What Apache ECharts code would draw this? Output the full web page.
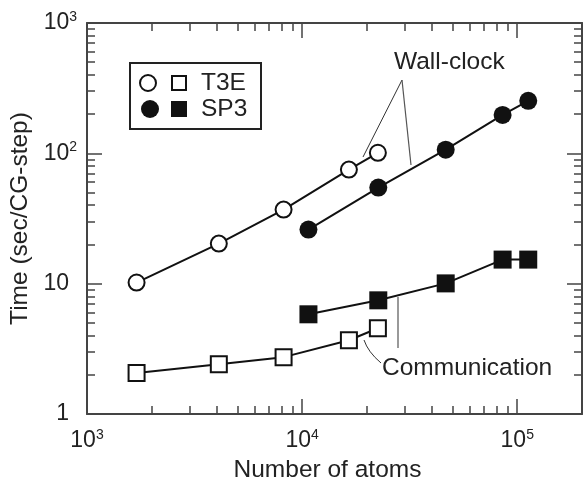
<!DOCTYPE html>
<html>
<head>
<meta charset="utf-8">
<script src="https://cdn.jsdelivr.net/npm/echarts@6/dist/echarts.min.js"></script>
<style>
  html, body { margin: 0; padding: 0; background: #fff; }
  #main { width: 586px; height: 477px; }
</style>
</head>
<body>
<div id="main"></div>
<script>
// data
var atomsT3E = [1700, 4100, 8200, 16500, 22500];
var wallT3E  = [10.2, 20.3, 37, 75, 101];
var commT3E  = [2.06, 2.41, 2.73, 3.68, 4.55];

var atomsSP3 = [10700, 22600, 46500, 85500, 112500];
var wallSP3  = [26, 54.6, 106.6, 197, 253];
var commSP3  = [5.82, 7.45, 10.05, 15.3, 15.3];

// axis ticks
var xMajor = [1e3, 1e4, 1e5];
var yMajor = [1, 10, 100, 1000];
var xMinor = [2e3, 3e3, 4e3, 5e3, 6e3, 7e3, 8e3, 9e3,
              2e4, 3e4, 4e4, 5e4, 6e4, 7e4, 8e4, 9e4];
var yMinor = [2, 3, 4, 5, 6, 7, 8, 9,
              20, 30, 40, 50, 60, 70, 80, 90,
              200, 300, 400, 500, 600, 700, 800, 900];

var FONT = '"Liberation Sans", Arial, Helvetica, sans-serif';
var ink = '#222';
var frame = '#444';
var bigFont = 24.5;

function pairs(xs, ys) {
    var out = [];
    for (let i = 0; i < xs.length; i++) {
        out.push([xs[i], ys[i]]);
    }
    return out;
}

function expOf(v) {
    return Math.round(Math.log(v) / Math.LN10);
}

var supRich = {
    b: { fontSize: 23, fontFamily: FONT, color: ink },
    n: { fontSize: 23, fontFamily: FONT, color: ink, padding: [0, 8, 0, 0] },
    s: { fontSize: 14, fontFamily: FONT, color: ink, padding: [0, 0, 12, 0] }
};

// one axis = one side of the box, major or minor ticks
function xAx(pos, major, withLabel) {
    return {
        type: 'log',
        position: pos,
        min: 1000,
        max: 200000,
        name: withLabel ? 'Number of atoms' : '',
        nameLocation: 'middle',
        nameGap: 35,
        nameTextStyle: { fontSize: bigFont, fontFamily: FONT, color: ink, padding: [0, 14, 0, 0] },
        axisLine: { show: major, onZero: false, lineStyle: { color: frame, width: 2 } },
        axisTick: {
            show: true,
            inside: true,
            length: major ? 15 : 8,
            customValues: major ? xMajor : xMinor,
            lineStyle: { color: frame, width: 1.5 }
        },
        axisLabel: {
            show: withLabel,
            customValues: xMajor,
            margin: 14,
            formatter: function (v) {
                return '{b|10}{s|' + expOf(v) + '}';
            },
            rich: supRich
        },
        splitLine: { show: false }
    };
}

function yAx(pos, major, withLabel) {
    return {
        type: 'log',
        position: pos,
        min: 1,
        max: 1000,
        name: withLabel ? 'Time (sec/CG-step)' : '',
        nameLocation: 'middle',
        nameGap: 51,
        nameTextStyle: { fontSize: bigFont, fontFamily: FONT, color: ink },
        axisLine: { show: major, onZero: false, lineStyle: { color: frame, width: 2 } },
        axisTick: {
            show: true,
            inside: true,
            length: major ? 15 : 8,
            customValues: major ? yMajor : yMinor,
            lineStyle: { color: frame, width: 1.5 }
        },
        axisLabel: {
            show: withLabel,
            customValues: yMajor,
            margin: 10,
            formatter: function (v) {
                var e = expOf(v);
                if (e === 0) return '{n|1}';
                if (e === 1) return '{n|10}';
                return '{b|10}{s|' + e + '}';
            },
            rich: supRich
        },
        splitLine: { show: false }
    };
}

function lineSeries(name, data, symbol) {
    var empty = symbol.indexOf('empty') === 0;
    return {
        name: name,
        type: 'line',
        xAxisIndex: 0,
        yAxisIndex: 0,
        data: data,
        symbol: symbol,
        symbolSize: empty ? 16 : 18,
        showAllSymbol: true,
        lineStyle: { color: '#111', width: 2 },
        itemStyle: { color: '#111', borderColor: '#111', borderWidth: empty ? 2 : 0 },
        emphasis: { disabled: true },
        z: 3
    };
}

let myChart = echarts.init(document.getElementById("main"));

let option = {
    backgroundColor: '#fff',
    animation: false,
    grid: { left: 87, right: 4, top: 23, bottom: 63, outerBoundsMode: 'none' },
    xAxis: [
        xAx('bottom', true, true),
        xAx('bottom', false, false),
        xAx('top', true, false),
        xAx('top', false, false)
    ],
    yAxis: [
        yAx('left', true, true),
        yAx('left', false, false),
        yAx('right', true, false),
        yAx('right', false, false)
    ],
    series: [
        lineSeries('T3E wall', pairs(atomsT3E, wallT3E), 'emptyCircle'),
        lineSeries('SP3 wall', pairs(atomsSP3, wallSP3), 'circle'),
        lineSeries('T3E comm', pairs(atomsT3E, commT3E), 'emptyRect'),
        lineSeries('SP3 comm', pairs(atomsSP3, commSP3), 'rect')
    ],
    graphic: [
        // legend box
        { type: 'rect', shape: { x: 130, y: 63, width: 131, height: 66 },
          style: { fill: '#fff', stroke: ink, lineWidth: 2 }, z: 10 },
        { type: 'circle', shape: { cx: 148, cy: 83, r: 8 },
          style: { fill: '#fff', stroke: '#111', lineWidth: 2 }, z: 11 },
        { type: 'rect', shape: { x: 172, y: 76, width: 14, height: 14 },
          style: { fill: '#fff', stroke: '#111', lineWidth: 2 }, z: 11 },
        { type: 'circle', shape: { cx: 150, cy: 109, r: 9 },
          style: { fill: '#111' }, z: 11 },
        { type: 'rect', shape: { x: 171, y: 101, width: 16, height: 16 },
          style: { fill: '#111' }, z: 11 },
        { type: 'text', x: 201, y: 83, z: 11,
          style: { text: 'T3E', font: bigFont + 'px ' + FONT, fill: ink, verticalAlign: 'middle' } },
        { type: 'text', x: 201, y: 109, z: 11,
          style: { text: 'SP3', font: bigFont + 'px ' + FONT, fill: ink, verticalAlign: 'middle' } },

        // Wall-clock note
        { type: 'text', x: 394, y: 62, z: 11,
          style: { text: 'Wall-clock', font: bigFont + 'px ' + FONT, fill: ink, verticalAlign: 'middle' } },
        { type: 'line', shape: { x1: 402, y1: 80, x2: 363, y2: 157 },
          style: { stroke: '#333', lineWidth: 1 }, z: 11 },
        { type: 'line', shape: { x1: 402, y1: 80, x2: 411, y2: 165 },
          style: { stroke: '#555', lineWidth: 1.2 }, z: 11 },

        // Communication note
        { type: 'text', x: 382, y: 368, z: 11,
          style: { text: 'Communication', font: bigFont + 'px ' + FONT, fill: ink, verticalAlign: 'middle' } },
        { type: 'bezierCurve', shape: { x1: 364, y1: 340, x2: 381, y2: 363, cpx1: 368, cpy1: 352 },
          style: { stroke: '#333', lineWidth: 1, fill: 'none' }, z: 11 },
        { type: 'line', shape: { x1: 398, y1: 297, x2: 398, y2: 348 },
          style: { stroke: '#999', lineWidth: 2 }, z: 11 }
    ]
};

myChart.setOption(option);
</script>
</body>
</html>
